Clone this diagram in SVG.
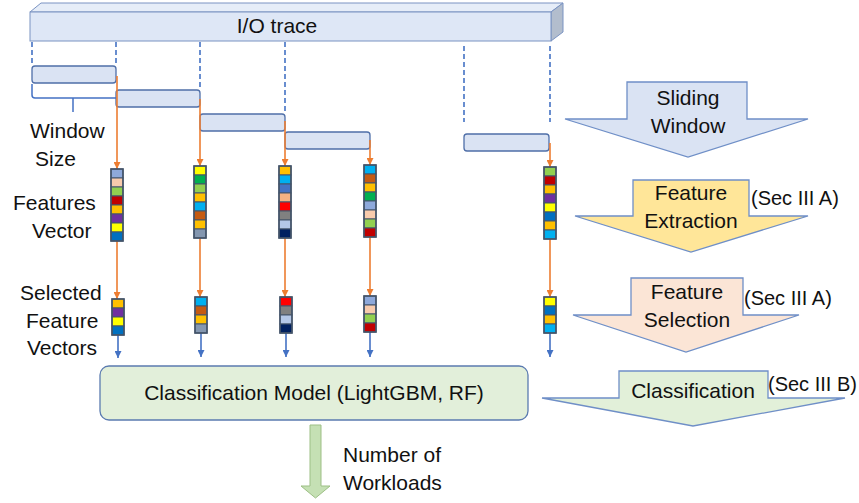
<svg xmlns="http://www.w3.org/2000/svg" width="859" height="503" viewBox="0 0 859 503">
  <style>
    text { font-family: "Liberation Sans", Arial, sans-serif; fill: #111; }
    .t21 { font-size: 21px; }
    .t20 { font-size: 20px; }
    .mid { text-anchor: middle; }
    .dash { stroke: #4472C4; stroke-width: 1.6; stroke-dasharray: 5 3; fill: none; }
    .win { fill: #DAE3F3; stroke: #4F6FA8; stroke-width: 1.3; }
    .orange { stroke: #ED7D31; stroke-width: 1.6; fill: none; marker-end: url(#headO); }
    .blue { stroke: #4472C4; stroke-width: 1.6; fill: none; marker-end: url(#headB); }
    .cell { stroke: #44546A; stroke-width: 1; }
    .vbox { fill: none; stroke: #44546A; stroke-width: 1.6; }
    .stage { stroke: #6F8FC7; stroke-width: 1.3; }
  </style>
  <defs>
    <marker id="headO" viewBox="0 0 10 10" refX="10" refY="5" markerWidth="7" markerHeight="7" markerUnits="userSpaceOnUse" orient="auto">
      <path d="M0 0 L10 5 L0 10 Z" fill="#ED7D31"/>
    </marker>
    <marker id="headB" viewBox="0 0 10 10" refX="10" refY="5" markerWidth="7" markerHeight="7" markerUnits="userSpaceOnUse" orient="auto">
      <path d="M0 0 L10 5 L0 10 Z" fill="#4472C4"/>
    </marker>
  </defs>

  <!-- I/O trace bar (3D box) -->
  <g id="io-trace">
    <polygon points="30,12 41,3 563,3 551,12" fill="#E6EDF8" stroke="#7A93C2" stroke-width="1"/>
    <polygon points="551,12 563,3 563,32 551,41" fill="#B2BDCD" stroke="#7A93C2" stroke-width="1"/>
    <rect x="30" y="12" width="521" height="29" fill="#DEE7F6" stroke="#7A93C2" stroke-width="1"/>
    <text class="t21 mid" x="277" y="33">I/O trace</text>
  </g>

  <!-- sliding windows -->
  <g id="windows">
    <rect id="win1" class="win" x="32" y="66" width="84" height="17" rx="3"/>
    <rect id="win2" class="win" x="116" y="90" width="84" height="17" rx="3"/>
    <rect id="win3" class="win" x="200" y="114" width="85" height="17" rx="3"/>
    <rect id="win4" class="win" x="285" y="132" width="85" height="17" rx="3"/>
    <rect id="win5" class="win" x="464" y="134" width="85" height="17" rx="3"/>
  </g>

  <!-- window size bracket -->
  <g id="window-size">
    <path d="M32 84 V95 Q32 98 35 98 H116 M73 98 V112" stroke="#4472C4" stroke-width="1.5" fill="none"/>
    <text class="t21" x="30" y="138">Window</text>
    <text class="t21" x="35" y="166">Size</text>
  </g>

  <!-- row labels -->
  <g id="labels">
    <text class="t21" x="13" y="210">Features</text>
    <text class="t21" x="32" y="238">Vector</text>
    <text class="t21" x="20" y="300">Selected</text>
    <text class="t21" x="26" y="328">Feature</text>
    <text class="t21" x="27" y="355">Vectors</text>
  </g>

  <!-- connectors -->
  <g id="connectors">
    <line class="dash" x1="32" y1="42" x2="32" y2="66"/>
    <line class="dash" x1="116" y1="42" x2="116" y2="66"/>
    <line class="dash" x1="200" y1="42" x2="200" y2="90"/>
    <line class="dash" x1="285" y1="42" x2="285" y2="114"/>
    <line class="dash" x1="464" y1="46" x2="464" y2="122"/>
    <line class="dash" x1="550" y1="46" x2="550" y2="122"/>

    <line class="orange" x1="117" y1="76" x2="117" y2="169"/>
    <line class="orange" x1="200" y1="99" x2="200" y2="166"/>
    <line class="orange" x1="285" y1="121" x2="285" y2="166"/>
    <line class="orange" x1="370" y1="140" x2="370" y2="165"/>
    <line class="orange" x1="550" y1="143" x2="550" y2="167"/>

    <line class="orange" x1="117" y1="241" x2="117" y2="299"/>
    <line class="orange" x1="200" y1="238" x2="200" y2="297"/>
    <line class="orange" x1="285" y1="238" x2="285" y2="297"/>
    <line class="orange" x1="370" y1="237" x2="370" y2="296"/>
    <line class="orange" x1="550" y1="239" x2="550" y2="297"/>

    <line class="blue" x1="118" y1="335" x2="118" y2="358"/>
    <line class="blue" x1="201" y1="333" x2="201" y2="357"/>
    <line class="blue" x1="286" y1="333" x2="286" y2="357"/>
    <line class="blue" x1="370" y1="332" x2="370" y2="357"/>
    <line class="blue" x1="550" y1="333" x2="550" y2="357"/>
  </g>

  <!-- feature vectors: 8 cells each -->
  <g id="fv1" transform="translate(111,169)">
    <rect class="cell" x="0" y="0" width="12" height="9" fill="#8EA9DB"/>
    <rect class="cell" x="0" y="9" width="12" height="9" fill="#F8CBAD"/>
    <rect class="cell" x="0" y="18" width="12" height="9" fill="#92D050"/>
    <rect class="cell" x="0" y="27" width="12" height="9" fill="#C00000"/>
    <rect class="cell" x="0" y="36" width="12" height="9" fill="#FFC000"/>
    <rect class="cell" x="0" y="45" width="12" height="9" fill="#7030A0"/>
    <rect class="cell" x="0" y="54" width="12" height="9" fill="#FFFF00"/>
    <rect class="cell" x="0" y="63" width="12" height="9" fill="#0070C0"/>
    <rect class="vbox" x="0" y="0" width="12" height="72"/>
  </g>
  <g id="fv2" transform="translate(194,166)">
    <rect class="cell" x="0" y="0" width="12" height="9" fill="#FFFF00"/>
    <rect class="cell" x="0" y="9" width="12" height="9" fill="#00B050"/>
    <rect class="cell" x="0" y="18" width="12" height="9" fill="#92D050"/>
    <rect class="cell" x="0" y="27" width="12" height="9" fill="#FFC000"/>
    <rect class="cell" x="0" y="36" width="12" height="9" fill="#00B0F0"/>
    <rect class="cell" x="0" y="45" width="12" height="9" fill="#C55A11"/>
    <rect class="cell" x="0" y="54" width="12" height="9" fill="#FFC000"/>
    <rect class="cell" x="0" y="63" width="12" height="9" fill="#8497B0"/>
    <rect class="vbox" x="0" y="0" width="12" height="72"/>
  </g>
  <g id="fv3" transform="translate(279,166)">
    <rect class="cell" x="0" y="0" width="12" height="9" fill="#FFC000"/>
    <rect class="cell" x="0" y="9" width="12" height="9" fill="#00B0F0"/>
    <rect class="cell" x="0" y="18" width="12" height="9" fill="#4472C4"/>
    <rect class="cell" x="0" y="27" width="12" height="9" fill="#F4B183"/>
    <rect class="cell" x="0" y="36" width="12" height="9" fill="#FF0000"/>
    <rect class="cell" x="0" y="45" width="12" height="9" fill="#808080"/>
    <rect class="cell" x="0" y="54" width="12" height="9" fill="#B4C7E7"/>
    <rect class="cell" x="0" y="63" width="12" height="9" fill="#002060"/>
    <rect class="vbox" x="0" y="0" width="12" height="72"/>
  </g>
  <g id="fv4" transform="translate(364,165)">
    <rect class="cell" x="0" y="0" width="12" height="9" fill="#00B0F0"/>
    <rect class="cell" x="0" y="9" width="12" height="9" fill="#C55A11"/>
    <rect class="cell" x="0" y="18" width="12" height="9" fill="#FFC000"/>
    <rect class="cell" x="0" y="27" width="12" height="9" fill="#00B050"/>
    <rect class="cell" x="0" y="36" width="12" height="9" fill="#8EA9DB"/>
    <rect class="cell" x="0" y="45" width="12" height="9" fill="#F8CBAD"/>
    <rect class="cell" x="0" y="54" width="12" height="9" fill="#92D050"/>
    <rect class="cell" x="0" y="63" width="12" height="9" fill="#C00000"/>
    <rect class="vbox" x="0" y="0" width="12" height="72"/>
  </g>
  <g id="fv5" transform="translate(544,167)">
    <rect class="cell" x="0" y="0" width="12" height="9" fill="#92D050"/>
    <rect class="cell" x="0" y="9" width="12" height="9" fill="#C00000"/>
    <rect class="cell" x="0" y="18" width="12" height="9" fill="#FFC000"/>
    <rect class="cell" x="0" y="27" width="12" height="9" fill="#7030A0"/>
    <rect class="cell" x="0" y="36" width="12" height="9" fill="#FFFF00"/>
    <rect class="cell" x="0" y="45" width="12" height="9" fill="#0070C0"/>
    <rect class="cell" x="0" y="54" width="12" height="9" fill="#FFC000"/>
    <rect class="cell" x="0" y="63" width="12" height="9" fill="#00B0F0"/>
    <rect class="vbox" x="0" y="0" width="12" height="72"/>
  </g>

  <!-- selected feature vectors: 4 cells each -->
  <g id="sv1" transform="translate(112,299)">
    <rect class="cell" x="0" y="0" width="12" height="9" fill="#FFC000"/>
    <rect class="cell" x="0" y="9" width="12" height="9" fill="#7030A0"/>
    <rect class="cell" x="0" y="18" width="12" height="9" fill="#FFFF00"/>
    <rect class="cell" x="0" y="27" width="12" height="9" fill="#0070C0"/>
    <rect class="vbox" x="0" y="0" width="12" height="36"/>
  </g>
  <g id="sv2" transform="translate(195,297)">
    <rect class="cell" x="0" y="0" width="12" height="9" fill="#00B0F0"/>
    <rect class="cell" x="0" y="9" width="12" height="9" fill="#C55A11"/>
    <rect class="cell" x="0" y="18" width="12" height="9" fill="#FFC000"/>
    <rect class="cell" x="0" y="27" width="12" height="9" fill="#8497B0"/>
    <rect class="vbox" x="0" y="0" width="12" height="36"/>
  </g>
  <g id="sv3" transform="translate(280,297)">
    <rect class="cell" x="0" y="0" width="12" height="9" fill="#FF0000"/>
    <rect class="cell" x="0" y="9" width="12" height="9" fill="#808080"/>
    <rect class="cell" x="0" y="18" width="12" height="9" fill="#B4C7E7"/>
    <rect class="cell" x="0" y="27" width="12" height="9" fill="#002060"/>
    <rect class="vbox" x="0" y="0" width="12" height="36"/>
  </g>
  <g id="sv4" transform="translate(364,296)">
    <rect class="cell" x="0" y="0" width="12" height="9" fill="#8EA9DB"/>
    <rect class="cell" x="0" y="9" width="12" height="9" fill="#F8CBAD"/>
    <rect class="cell" x="0" y="18" width="12" height="9" fill="#92D050"/>
    <rect class="cell" x="0" y="27" width="12" height="9" fill="#C00000"/>
    <rect class="vbox" x="0" y="0" width="12" height="36"/>
  </g>
  <g id="sv5" transform="translate(544,297)">
    <rect class="cell" x="0" y="0" width="12" height="9" fill="#FFFF00"/>
    <rect class="cell" x="0" y="9" width="12" height="9" fill="#0070C0"/>
    <rect class="cell" x="0" y="18" width="12" height="9" fill="#FFC000"/>
    <rect class="cell" x="0" y="27" width="12" height="9" fill="#00B0F0"/>
    <rect class="vbox" x="0" y="0" width="12" height="36"/>
  </g>

  <!-- classification model -->
  <g id="model">
    <rect x="100" y="366" width="428" height="54" rx="9" fill="#E2EFDA" stroke="#5B7BB0" stroke-width="1.3"/>
    <text class="t21 mid" x="314" y="400">Classification Model (LightGBM, RF)</text>
  </g>

  <!-- output arrow -->
  <g id="output">
    <path d="M310 425 H321 V486 H330 L315.5 498 L301 486 H310 Z" fill="#C5E0B4" stroke="#9DBF85" stroke-width="1"/>
    <text class="t21" x="343" y="462">Number of</text>
    <text class="t21" x="343" y="490">Workloads</text>
  </g>

  <!-- pipeline stages -->
  <g id="stage-sliding">
    <path class="stage" d="M627 82 H747 V119 H808 L688 157 L565 119 H627 Z" fill="#DAE3F3"/>
    <text class="t21 mid" x="688" y="105">Sliding</text>
    <text class="t21 mid" x="688" y="133">Window</text>
  </g>
  <g id="stage-extraction">
    <path class="stage" d="M633 180 H749 V216 H808 L691 252 L575 216 H633 Z" fill="#FFE699"/>
    <text class="t21 mid" x="691" y="200">Feature</text>
    <text class="t21 mid" x="691" y="228">Extraction</text>
    <text class="t20" x="751" y="205">(Sec III A)</text>
  </g>
  <g id="stage-selection">
    <path class="stage" d="M631 278 H743 V315 H799 L686 352 L573 315 H631 Z" fill="#FBE5D6"/>
    <text class="t21 mid" x="687" y="299">Feature</text>
    <text class="t21 mid" x="687" y="327">Selection</text>
    <text class="t20" x="744" y="305">(Sec III A)</text>
  </g>
  <g id="stage-classification">
    <path class="stage" d="M619 371 H768 V398 H845 L693 426 L542 398 H619 Z" fill="#E2F0D9"/>
    <text class="t21 mid" x="693" y="398">Classification</text>
    <text class="t20" x="768" y="391">(Sec III B)</text>
  </g>
</svg>
